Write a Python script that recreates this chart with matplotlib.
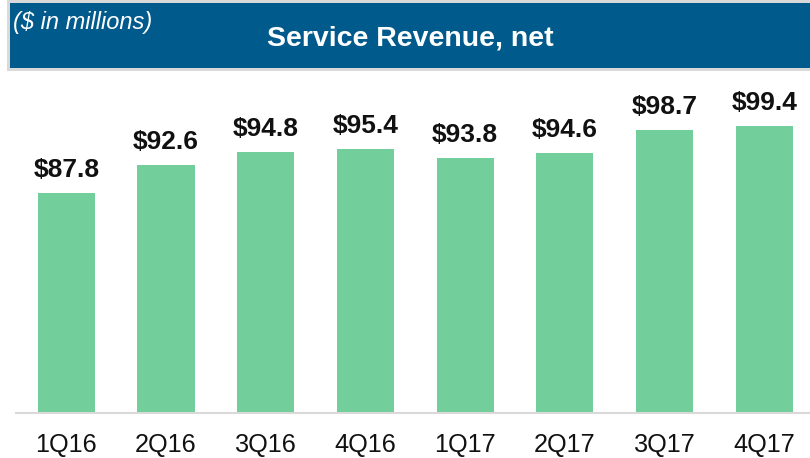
import matplotlib
matplotlib.use("Agg")
import matplotlib.pyplot as plt
from matplotlib.patches import Rectangle

plt.rcParams['font.family'] = ['Liberation Sans', 'DejaVu Sans']

quarters = ['1Q16', '2Q16', '3Q16', '4Q16', '1Q17', '2Q17', '3Q17', '4Q17']
revenue = [87.8, 92.6, 94.8, 95.4, 93.8, 94.6, 98.7, 99.4]
value_labels = ['$87.8', '$92.6', '$94.8', '$95.4', '$93.8', '$94.6', '$98.7', '$99.4']

W, H = 810, 458
fig = plt.figure(figsize=(W / 100, H / 100), dpi=100)
fig.set_facecolor('white')

# header band (gray frame + blue box)
fig.patches.append(Rectangle((7 / W, 1 - 70.7 / H), (W - 7) / W, 70.7 / H,
                             transform=fig.transFigure, facecolor='#d9d9d9', edgecolor='none'))
fig.patches.append(Rectangle((9.5 / W, 1 - 68.3 / H), 800 / W, 65 / H,
                             transform=fig.transFigure, facecolor='#005a8c', edgecolor='none'))
fig.text(13 / W, 1 - 23 / H, '($ in millions)', color='white', fontsize=17,
         style='italic', ha='left', va='center')
fig.text(410.5 / W, 1 - 38 / H, 'Service Revenue, net', color='white', fontsize=20.5,
         fontweight='bold', ha='center', va='center')

# plotting area
ax_bottom = 412.7
ax_top = 80
ax = fig.add_axes([16 / W, (H - ax_bottom) / H, (W - 16) / W, (ax_bottom - ax_top) / H])
x = list(range(len(quarters)))
bars = ax.bar(x, revenue, width=0.572, color='#72ce9b')
ax.bar_label(bars, labels=value_labels, padding=8, fontsize=19, fontweight='bold', color='#111111')

ax.set_xlim(-0.5045, 7.459)
ax.set_ylim(49.7, 107.3)
ax.set_xticks(x)
ax.set_xticklabels(quarters, fontsize=18.2, color='#111111')
ax.tick_params(axis='x', length=0, pad=14.5)
ax.set_yticks([])
for side in ['top', 'left', 'right']:
    ax.spines[side].set_visible(False)
ax.spines['bottom'].set_color('#d9d9d9')
ax.spines['bottom'].set_linewidth(1.5)
ax.set_facecolor('none')

fig.savefig('out.png', dpi=100)
